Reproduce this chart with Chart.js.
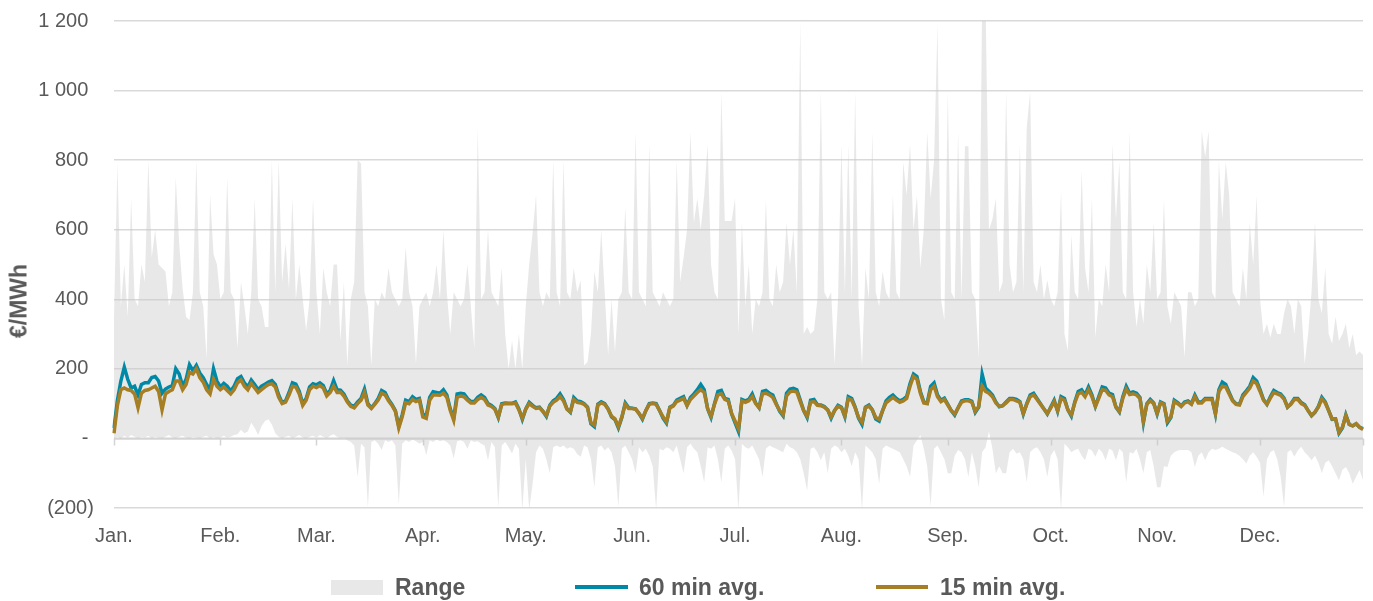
<!DOCTYPE html>
<html>
<head>
<meta charset="utf-8">
<script src="https://cdn.jsdelivr.net/npm/chart.js@4.4.1/dist/chart.umd.min.js"></script>
<style>
  html, body { margin: 0; padding: 0; background: #ffffff; }
  #wrap { position: relative; width: 1373px; height: 601px; overflow: hidden; }
  #c { position: absolute; left: 0; top: 0; }
  .ytitle { position: absolute; left: 19px; top: 301px; transform: translate(-50%, -50%) rotate(-90deg);
            font: bold 23px "Liberation Sans", Arial, sans-serif; color: #595959; white-space: nowrap; }
  .lg { position: absolute; font: bold 23px "Liberation Sans", Arial, sans-serif; color: #595959;
        line-height: 26px; top: 574px; white-space: nowrap; }
  .sw { position: absolute; }
</style>
</head>
<body>
<div id="wrap">
  <canvas id="c" width="1373" height="601"></canvas>
  <div class="ytitle">€/MWh</div>
  <div class="sw" style="left:331px;top:580px;width:52px;height:15px;background:#e8e8e8;"></div>
  <div class="lg" style="left:395px;">Range</div>
  <div class="sw" style="left:575px;top:585px;width:53px;height:4px;background:#0089a7;"></div>
  <div class="lg" style="left:639px;">60 min avg.</div>
  <div class="sw" style="left:876px;top:585px;width:52px;height:4px;background:#a67f24;"></div>
  <div class="lg" style="left:940px;">15 min avg.</div>
</div>
<script>
// ---- tick labels ----
const months = ['Jan.','Feb.','Mar.','Apr.','May.','Jun.','Jul.','Aug.','Sep.','Oct.','Nov.','Dec.'];
const monthStarts = [0,31,59,90,120,151,181,212,243,273,304,334];
const yTicks = [-200,0,200,400,600,800,1000,1200];

// ---- daily series (€/MWh) ----
const avg60 = [
30,110,165,205,170,145,150,125,155,160,
160,175,178,165,130,142,148,152,200,185,
150,170,212,195,210,188,175,155,140,200,
165,148,158,150,136,150,172,178,160,148,
168,155,140,150,156,162,166,155,125,103,
108,132,160,156,135,100,115,148,157,154,
160,152,128,138,166,140,139,128,108,96,
92,105,115,142,100,88,100,115,138,132,
112,98,80,35,68,110,106,120,112,115,
70,64,118,134,132,130,140,125,85,58,
128,130,128,115,106,106,118,125,118,100,
95,86,60,100,102,101,101,105,85,55,
85,104,95,88,90,78,63,95,108,115,
128,112,85,75,118,108,106,100,90,42,
34,98,105,100,85,62,54,30,60,102,
88,87,85,72,55,80,100,102,100,80,
58,44,90,95,110,115,120,95,118,128,
140,155,140,85,60,100,135,138,115,112,
70,45,20,112,108,112,128,102,88,135,
138,130,125,100,78,65,130,142,144,140,
110,80,60,110,112,97,96,92,82,58,
80,95,90,62,120,115,90,58,40,90,
96,82,56,50,80,108,118,125,115,108,
112,120,158,185,178,135,105,102,150,160,
125,110,116,98,80,67,88,108,111,111,
107,75,90,185,145,136,125,105,91,94,
105,115,115,112,106,70,100,125,130,115,
100,85,70,90,110,78,120,115,82,64,
105,135,140,125,148,125,92,120,148,145,
130,126,90,76,120,150,130,134,130,118,
45,100,112,102,70,105,100,45,60,110,
103,93,105,108,100,125,105,105,115,115,
115,70,140,162,155,132,110,100,98,125,
137,150,175,165,140,112,98,120,138,132,
128,116,90,100,115,115,103,97,80,65,
75,92,118,105,80,55,56,15,30,68,
40,36,42,32,28];

const avg15 = [
15,95,140,145,140,138,128,88,130,138,
140,145,150,135,82,128,135,140,165,165,
140,155,190,185,200,175,162,140,128,170,
150,140,148,138,128,140,160,168,150,140,
158,145,132,140,148,155,157,148,118,100,
104,125,150,148,128,95,110,140,150,146,
152,145,122,132,150,132,133,122,105,92,
88,100,110,132,96,86,98,110,130,125,
108,95,78,30,62,103,100,112,106,110,
62,58,110,125,125,124,130,118,80,52,
118,122,120,110,102,102,112,118,112,96,
92,84,62,97,100,100,100,102,82,58,
84,100,92,86,88,78,66,93,104,110,
120,108,84,76,112,104,102,98,88,45,
38,95,102,98,84,64,56,34,62,98,
86,86,84,72,58,80,98,100,98,80,
62,48,88,93,106,110,115,94,112,122,
132,140,132,86,64,98,125,128,112,108,
72,50,28,108,104,108,120,100,88,128,
130,125,118,98,80,68,122,134,136,133,
106,80,64,104,106,95,94,90,82,62,
80,92,88,65,114,110,88,60,46,88,
93,82,60,55,80,102,110,118,110,104,
108,115,150,178,170,130,102,100,140,150,
120,106,112,96,80,70,88,104,108,108,
104,78,92,150,135,130,120,102,92,94,
102,112,112,108,104,72,98,120,125,112,
98,85,72,88,106,80,115,110,82,68,
102,128,133,120,140,120,92,115,140,138,
125,120,90,78,115,142,126,128,125,115,
50,98,108,100,72,102,98,50,62,106,
100,92,102,105,98,120,102,102,112,112,
112,72,135,150,148,128,108,98,96,120,
132,145,165,158,135,110,98,116,132,128,
124,113,90,98,112,112,100,95,80,66,
76,90,114,102,80,56,56,18,32,66,
40,36,42,32,26];

const rangeMax = [
350,790,380,500,350,690,400,380,500,450,
800,520,600,500,490,480,380,420,750,560,
430,350,340,420,800,420,380,230,700,530,
500,400,420,750,420,400,260,450,380,300,
420,690,400,380,320,320,800,420,800,450,
560,430,690,400,500,400,310,400,690,420,
300,490,420,380,500,500,280,450,210,400,
450,800,790,420,380,210,400,380,420,400,
490,420,400,380,400,550,420,380,215,380,
400,420,380,420,500,400,600,420,300,420,
400,380,400,500,380,260,890,400,420,600,
420,400,380,490,300,200,280,200,300,200,
380,500,590,700,420,380,420,400,800,420,
380,800,420,400,490,420,455,210,220,300,
480,420,600,420,240,400,250,400,420,665,
420,400,880,420,400,380,845,420,400,380,
420,400,380,400,800,450,520,600,880,620,
690,600,700,845,500,420,400,995,625,625,
625,690,300,620,380,500,300,400,380,420,
685,400,380,500,420,450,620,500,600,420,
1195,300,320,300,310,400,995,420,400,420,
215,400,845,420,845,400,995,380,210,490,
400,880,420,380,480,420,400,700,420,400,
795,700,845,600,697,490,600,880,690,800,
1190,400,340,995,420,400,880,400,840,840,
420,400,233,1250,1250,600,630,690,420,450,
995,500,420,450,845,420,893,995,450,420,
500,400,455,400,380,420,710,300,252,585,
420,400,770,490,420,690,290,400,380,500,
420,845,630,795,420,400,883,420,320,400,
330,500,420,620,400,420,685,380,330,420,
400,380,233,420,420,380,400,883,810,883,
420,400,795,630,795,700,420,400,380,490,
400,620,500,697,400,300,330,290,330,300,
300,360,400,380,300,400,380,215,300,420,
620,400,360,490,300,272,350,280,300,330,
260,300,240,250,240];

const rangeMin = [
0,5,0,8,2,10,5,0,5,3,
8,0,5,2,0,5,10,3,0,5,
8,2,0,5,3,0,5,8,0,5,
0,3,8,2,5,10,12,25,15,20,
45,30,10,35,50,55,40,15,5,0,
5,8,0,5,10,3,0,5,8,2,
10,5,0,8,12,5,0,3,-5,-10,
-20,-111,-15,-25,-198,-10,-5,-15,-33,-5,
-10,-5,-20,-190,-15,-5,-10,-3,-8,-15,
-10,-48,-5,-10,-3,-8,-5,-10,-20,-57,
-8,-5,-10,-30,-5,-10,-8,-15,-20,-63,
-10,-25,-198,-20,-10,-25,-43,-15,-30,-205,
-60,-205,-130,-40,-20,-30,-60,-100,-25,-20,
-25,-20,-30,-25,-30,-45,-53,-20,-25,-60,
-140,-25,-20,-35,-25,-40,-80,-196,-30,-20,
-40,-60,-100,-25,-40,-30,-50,-80,-205,-30,
-35,-25,-30,-40,-20,-60,-100,-25,-15,-30,
-40,-80,-126,-25,-30,-20,-60,-126,-30,-20,
-35,-60,-205,-15,-25,-30,-20,-40,-60,-110,
-30,-20,-25,-30,-35,-40,-15,-25,-30,-40,
-60,-100,-150,-30,-25,-40,-63,-40,-100,-30,
-20,-25,-40,-30,-50,-80,-40,-60,-205,-20,
-30,-40,-60,-130,-30,-20,-25,-30,-35,-40,
-60,-80,-110,-20,-5,10,-30,-80,-195,-30,
-20,-40,-60,-100,-100,-50,-33,-40,-60,-110,
-40,-80,-140,-40,-25,20,-30,-100,-80,-100,
-100,-40,-30,-43,-40,-60,-126,-40,-30,-25,
-40,-60,-110,-50,-33,-60,-205,-15,-25,-40,
-33,-30,-50,-63,-30,-35,-53,-30,-40,-63,
-30,-35,-63,-30,-40,-126,-40,-43,-30,-60,
-100,-40,-33,-80,-140,-140,-80,-82,-50,-40,
-35,-33,-33,-33,-40,-82,-50,-40,-63,-40,
-30,-33,-30,-24,-30,-35,-40,-43,-50,-60,
-72,-50,-40,-53,-70,-167,-60,-40,-33,-60,
-110,-196,-40,-33,-53,-35,-24,-40,-50,-63,
-50,-70,-100,-70,-63,-80,-100,-120,-90,-82,
-100,-130,-110,-91,-120];

// ---- build chart ----
const dayLabels = avg60.map((_, i) => String(i));
const GREY_TXT = '#595959';
Chart.defaults.font.family = '"Liberation Sans", Arial, sans-serif';
Chart.defaults.font.size = 20;
Chart.defaults.color = GREY_TXT;

function fmtNum(n) {
  return n >= 1000 ? Math.floor(n / 1000) + ' ' + String(n % 1000).padStart(3, '0') : String(n);
}
// accounting style: positives keep room for the closing parenthesis
function fmtTick(v) {
  if (v === 0) return '-   ';
  if (v < 0) return '(' + fmtNum(-v) + ')  ';
  return fmtNum(v) + '   ';
}

const zeroAxis = {
  id: 'zeroAxis',
  beforeDatasetsDraw(chart) {
    const { ctx, chartArea, scales: { x, y } } = chart;
    const y0 = y.getPixelForValue(0);
    ctx.save();
    ctx.strokeStyle = '#d4d4d4';
    ctx.lineWidth = 2;
    ctx.beginPath();
    ctx.moveTo(chartArea.left, y0);
    ctx.lineTo(chartArea.right, y0);
    ctx.stroke();
    ctx.lineWidth = 1.5;
    ctx.beginPath();
    monthStarts.concat([avg60.length - 1]).forEach(i => {
      const px = Math.round(x.getPixelForValue(i)) + 0.5;
      ctx.moveTo(px, y0);
      ctx.lineTo(px, y0 + 7);
    });
    ctx.stroke();
    ctx.restore();
  }
};

new Chart(document.getElementById('c'), {
  type: 'line',
  data: {
    labels: dayLabels,
    datasets: [
      { label: '15 min avg.', data: avg15, borderColor: '#a67f24', borderWidth: 3.5, pointRadius: 0, tension: 0, fill: false },
      { label: '60 min avg.', data: avg60, borderColor: '#0089a7', borderWidth: 3.5, pointRadius: 0, tension: 0, fill: false },
      { label: 'Range max', data: rangeMax, borderWidth: 0, borderColor: 'rgba(0,0,0,0)', pointRadius: 0, tension: 0, fill: false },
      { label: 'Range', data: rangeMin, borderWidth: 0, borderColor: 'rgba(0,0,0,0)', pointRadius: 0, tension: 0,
        fill: '-1', backgroundColor: 'rgba(200,200,200,0.42)' }
    ]
  },
  options: {
    responsive: false,
    animation: false,
    events: [],
    layout: { padding: { top: 0, right: 10, bottom: 37, left: 12 } },
    plugins: { legend: { display: false }, tooltip: { enabled: false } },
    scales: {
      x: {
        type: 'category',
        grid: { display: false, drawTicks: false },
        border: { display: false },
        afterBuildTicks: (s) => { s.ticks = monthStarts.map(v => ({ value: v })); },
        ticks: {
          autoSkip: false, maxRotation: 0, minRotation: 0, padding: 16,
          color: GREY_TXT, font: { size: 20 },
          callback: (v) => months[monthStarts.indexOf(v)]
        }
      },
      y: {
        min: -200, max: 1200,
        afterBuildTicks: (s) => { s.ticks = yTicks.map(v => ({ value: v })); },
        afterFit: (s) => { s.width = 102; },
        grid: { color: '#d9d9d9', lineWidth: 1.5, drawTicks: false },
        border: { display: false },
        ticks: { padding: 9, color: GREY_TXT, font: { size: 20 }, callback: (v) => fmtTick(v) }
      }
    }
  },
  plugins: [zeroAxis]
});
</script>
</body>
</html>
